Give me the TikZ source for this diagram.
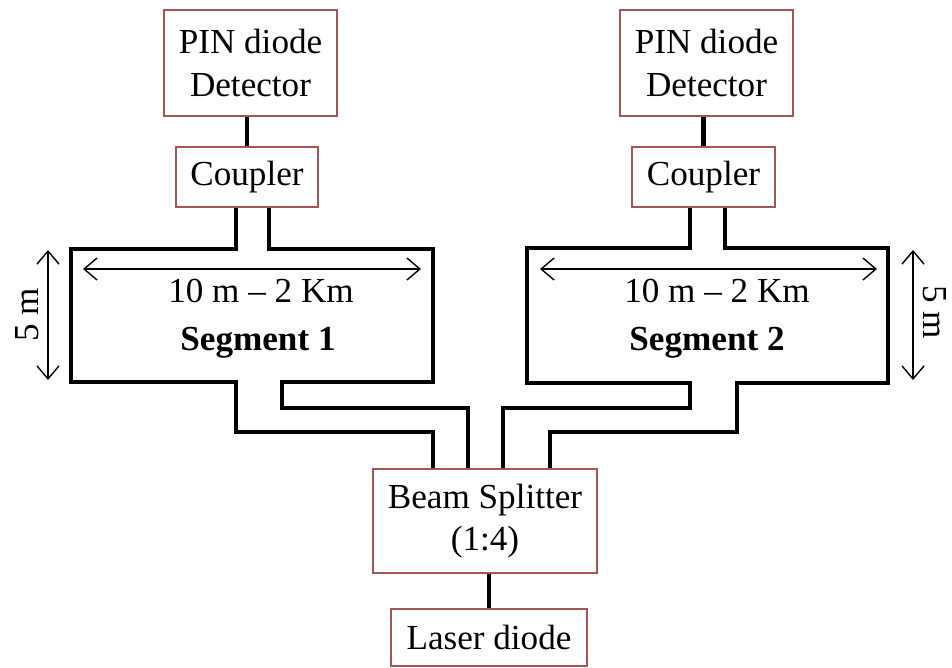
\documentclass[tikz,border=0pt]{standalone}
\usepackage{fontspec}
\setmainfont{Liberation Serif}
\usepackage{tikz}
\usetikzlibrary{arrows.meta, positioning, calc}
\usepackage{xcolor}
\definecolor{boxred}{RGB}{165,85,85}

\tikzset{
  box/.style={draw=boxred, line width=1.6pt, fill=white, align=center,
    font=\fontsize{20}{24}\selectfont, inner sep=0pt},
  link/.style={line width=2.8pt},
  pipe/.style={line width=2.8pt, line join=miter},
  dim/.style={line width=0.8pt, {Straight Barb[length=2.6mm,width=4.4mm]}-{Straight Barb[length=2.6mm,width=4.4mm]}},
  lbl/.style={font=\fontsize{20}{24}\selectfont, inner sep=0pt}
}

\begin{document}
\begin{tikzpicture}[x=0.02cm, y=-0.02cm]
  \useasboundingbox (0,0) rectangle (952,668);
  % boxes
  \node[box, minimum width=3.46cm, minimum height=2.12cm] (pinL) at (250.5,63) {PIN diode\\Detector};
  \node[box, minimum width=2.84cm, minimum height=1.2cm] (coupL) at (247,177) {Coupler};
  \node[box, minimum width=3.46cm, minimum height=2.12cm] (pinR) at (706.5,63) {PIN diode\\Detector};
  \node[box, minimum width=2.86cm, minimum height=1.2cm] (coupR) at (703.5,177) {Coupler};
  \node[box, minimum width=4.48cm, minimum height=2.08cm] (split) at (485,521) {Beam Splitter\\(1:4)};
  \node[box, minimum width=3.92cm, minimum height=1.14cm] (laser) at (489,637.5) {Laser diode};

  % short links
  \draw[link] (coupL.north) -- (coupL.north |- pinL.south);
  \draw[link] (coupR.north) -- (coupR.north |- pinR.south);
  \draw[link] (laser.north) -- (laser.north |- split.south);

  % segment 1
  \draw[pipe] (236,0 |- coupL.south) -- (236,249) -| (71,382) -| (236,432) -| (433,0 |- split.north);
  \draw[pipe] (269,0 |- coupL.south) -- (269,249) -| (433,382) -| (282,408) -| (468,0 |- split.north);
  % segment 2
  \draw[pipe] (690,0 |- coupR.south) -- (690,248) -| (527,383) -| (690,408) -| (503,0 |- split.north);
  \draw[pipe] (725,0 |- coupR.south) -- (725,248) -| (888,383) -| (737,432) -| (550,0 |- split.north);

  % dimensions
  \draw[dim] (83,269) -- (421,269);
  \draw[dim] (48,250) -- (48,380);
  \node[lbl] (lenL) at (261,291) {10 m -- 2 Km};
  \node[lbl, font=\fontsize{20}{24}\selectfont\bfseries] (segL) at (258,343) {Segment 1};
  \node[lbl, rotate=90] (hL) at (27,315) {5 m};

  \draw[dim] (540,269) -- (877,269);
  \draw[dim] (913,250) -- (913,380);
  \node[lbl] (lenR) at (717,291) {10 m -- 2 Km};
  \node[lbl, font=\fontsize{20}{24}\selectfont\bfseries] (segR) at (707,343) {Segment 2};
  \node[lbl, rotate=-90] (hR) at (935,312) {5 m};
\end{tikzpicture}
\end{document}
